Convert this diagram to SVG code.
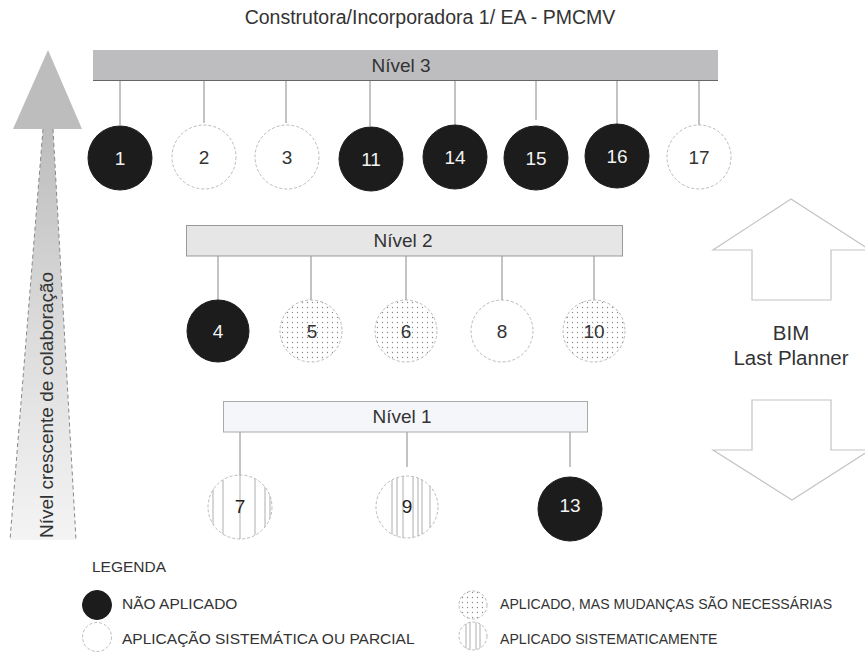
<svg xmlns="http://www.w3.org/2000/svg" width="865" height="657" viewBox="0 0 865 657">
<defs>
<style>
text{font-family:"Liberation Sans",Arial,sans-serif;fill:#333}
.num{font-size:19px;text-anchor:middle}
.wnum{font-size:19px;text-anchor:middle;fill:#f2f2f2}
.blk{fill:#1c1c1c;stroke:#1c1c1c;stroke-width:1}
.wht{fill:#fff;stroke:#aaa;stroke-width:0.8;stroke-dasharray:3 2}
.dot{fill:url(#dots);stroke:#aaa;stroke-width:0.8;stroke-dasharray:3 2}
.ring{fill:none;stroke:#aaa;stroke-width:0.8;stroke-dasharray:3 2}
.stripe line{stroke:#999;stroke-width:0.8}
.lvl{font-size:19px;text-anchor:middle}
.leg{font-size:15.5px}
.legr{font-size:14.1px}
.conn line{stroke:#888;stroke-width:1}
.bigarrow{fill:#fff;stroke:#c4c4c4;stroke-width:1.2}
</style>
<pattern id="dots" width="5" height="5" patternUnits="userSpaceOnUse">
<rect width="5" height="5" fill="#fff"/>
<circle cx="2.5" cy="2.5" r="0.65" fill="#888"/>
</pattern>
<clipPath id="c7"><circle cx="240" cy="507" r="32"/></clipPath>
<clipPath id="c9"><circle cx="407" cy="507" r="31"/></clipPath>
<clipPath id="cl"><circle cx="473" cy="636" r="14"/></clipPath>
<linearGradient id="shaft" x1="0" y1="0" x2="0" y2="1">
<stop offset="0" stop-color="#bdbdbd"/>
<stop offset="0.5" stop-color="#dcdcdc"/>
<stop offset="1" stop-color="#f4f4f4"/>
</linearGradient>
</defs>
<rect width="865" height="657" fill="#fff"/>

<text x="430" y="24" style="font-size:19.5px;text-anchor:middle">Construtora/Incorporadora 1/ EA - PMCMV</text>

<g id="collab-arrow">
<polygon points="43,129 53,129 76,540 10,540" fill="url(#shaft)"/>
<line x1="43" y1="129" x2="10" y2="540" stroke="#888" stroke-width="1" stroke-dasharray="4 3"/>
<line x1="53" y1="129" x2="76" y2="540" stroke="#888" stroke-width="1" stroke-dasharray="4 3"/>
<polygon points="48,50 82,129 13,129" fill="#bdbdbd"/>
<text transform="translate(53,405) rotate(-90)" style="font-size:19px;text-anchor:middle">Nível crescente de colaboração</text>
</g>

<g class="conn" id="connectors">
<line x1="120" y1="81" x2="120" y2="125"/>
<line x1="204" y1="81" x2="204" y2="123"/>
<line x1="286" y1="81" x2="286" y2="123"/>
<line x1="370" y1="81" x2="370" y2="126"/>
<line x1="455" y1="81" x2="455" y2="125"/>
<line x1="536" y1="81" x2="536" y2="120"/>
<line x1="617" y1="81" x2="617" y2="124"/>
<line x1="699" y1="81" x2="699" y2="125"/>
<line x1="218" y1="256" x2="218" y2="300"/>
<line x1="311" y1="256" x2="311" y2="300"/>
<line x1="406" y1="256" x2="406" y2="300"/>
<line x1="502" y1="256" x2="502" y2="300"/>
<line x1="594" y1="256" x2="594" y2="300"/>
<line x1="240" y1="432" x2="240" y2="475"/>
<line x1="407" y1="432" x2="407" y2="467"/>
<line x1="570" y1="432" x2="570" y2="467"/>
</g>

<g id="nivel3">
<rect x="93" y="50" width="625" height="31" fill="#bdbdbf"/>
<line x1="93" y1="80.5" x2="718" y2="80.5" stroke="#666" stroke-width="1"/>
<text class="lvl" x="401" y="72">Nível 3</text>
</g>
<g id="nivel2">
<rect x="186.5" y="225.5" width="436" height="30.5" fill="#e6e6e6" stroke="#999" stroke-width="1"/>
<text class="lvl" x="403" y="247">Nível 2</text>
</g>
<g id="nivel1">
<rect x="223.5" y="401.5" width="364" height="30.5" fill="#f4f6fa" stroke="#aaa" stroke-width="1"/>
<text class="lvl" x="402" y="423">Nível 1</text>
</g>

<g id="n1"><circle class="blk" cx="120" cy="158" r="32"/><text class="wnum" x="120" y="165">1</text></g>
<g id="n2"><circle class="wht" cx="204" cy="157" r="32"/><text class="num" x="204" y="164">2</text></g>
<g id="n3"><circle class="wht" cx="287" cy="157" r="32"/><text class="num" x="287" y="164">3</text></g>
<g id="n11"><circle class="blk" cx="371" cy="159" r="32"/><text class="wnum" x="371" y="166">11</text></g>
<g id="n14"><circle class="blk" cx="455" cy="157" r="32"/><text class="wnum" x="455" y="164">14</text></g>
<g id="n15"><circle class="blk" cx="536" cy="158" r="32"/><text class="wnum" x="536" y="165">15</text></g>
<g id="n16"><circle class="blk" cx="617" cy="156" r="32"/><text class="wnum" x="617" y="163">16</text></g>
<g id="n17"><circle class="wht" cx="699" cy="157" r="32"/><text class="num" x="699" y="164">17</text></g>

<g id="n4"><circle class="blk" cx="218" cy="331" r="31"/><text class="wnum" x="218" y="338">4</text></g>
<g id="n5"><circle class="dot" cx="311" cy="331" r="31"/><text class="num" x="312" y="338">5</text></g>
<g id="n6"><circle class="dot" cx="406" cy="331" r="31"/><text class="num" x="406" y="338">6</text></g>
<g id="n8"><circle class="wht" cx="502" cy="331" r="31"/><text class="num" x="502" y="338">8</text></g>
<g id="n10"><circle class="dot" cx="594" cy="331" r="31"/><text class="num" x="594" y="338">10</text></g>

<g id="n7">
<circle cx="240" cy="507" r="32" fill="#fff"/>
<g class="stripe" clip-path="url(#c7)">
<line x1="213" y1="470" x2="213" y2="545"/>
<line x1="223" y1="470" x2="223" y2="545"/>
<line x1="240" y1="470" x2="240" y2="545"/>
<line x1="255" y1="470" x2="255" y2="545"/>
<line x1="265" y1="470" x2="265" y2="545"/>
<line x1="270" y1="470" x2="270" y2="545"/>
</g>
<circle class="ring" cx="240" cy="507" r="32"/>
<text class="num" x="240" y="513" style="fill:#222">7</text>
</g>
<g id="n9">
<circle cx="407" cy="507" r="31" fill="#fff"/>
<g class="stripe" clip-path="url(#c9)">
<line x1="392" y1="470" x2="392" y2="545"/>
<line x1="397" y1="470" x2="397" y2="545"/>
<line x1="403" y1="470" x2="403" y2="545"/>
<line x1="413" y1="470" x2="413" y2="545"/>
<line x1="418" y1="470" x2="418" y2="545"/>
<line x1="422" y1="470" x2="422" y2="545"/>
<line x1="430" y1="470" x2="430" y2="545"/>
</g>
<circle class="ring" cx="407" cy="507" r="31"/>
<text class="num" x="407" y="513" style="fill:#222">9</text>
</g>
<g id="n13"><circle class="blk" cx="570" cy="509" r="32"/><text class="wnum" x="570" y="512">13</text></g>

<g id="bim-arrows">
<polygon class="bigarrow" points="791,199 713,250 752,250 752,300 831,300 831,250 870,250"/>
<polygon class="bigarrow" points="752,400 831,400 831,450 870,450 792,500 713,450 752,450"/>
<text x="791" y="340" style="font-size:20.5px;text-anchor:middle">BIM</text>
<text x="791" y="365" style="font-size:20.5px;text-anchor:middle">Last Planner</text>
</g>

<g id="legend">
<text class="leg" x="92" y="572">LEGENDA</text>
<circle class="blk" cx="97" cy="605" r="14.5"/>
<text class="leg" x="122" y="609">NÃO APLICADO</text>
<circle class="wht" cx="97" cy="637" r="14.5"/>
<text class="leg" x="122" y="644">APLICAÇÃO SISTEMÁTICA OU PARCIAL</text>
<circle cx="473" cy="605" r="14" fill="url(#dots)" stroke="#aaa" stroke-width="0.8" stroke-dasharray="3 2"/>
<text class="legr" x="500" y="609">APLICADO, MAS MUDANÇAS SÃO NECESSÁRIAS</text>
<circle cx="473" cy="636" r="14" fill="#fff"/>
<g class="stripe" clip-path="url(#cl)">
<line x1="466" y1="620" x2="466" y2="652"/>
<line x1="470" y1="620" x2="470" y2="652"/>
<line x1="476" y1="620" x2="476" y2="652"/>
<line x1="480" y1="620" x2="480" y2="652"/>
</g>
<circle class="ring" cx="473" cy="636" r="14"/>
<text class="legr" x="500" y="644">APLICADO SISTEMATICAMENTE</text>
</g>
</svg>
